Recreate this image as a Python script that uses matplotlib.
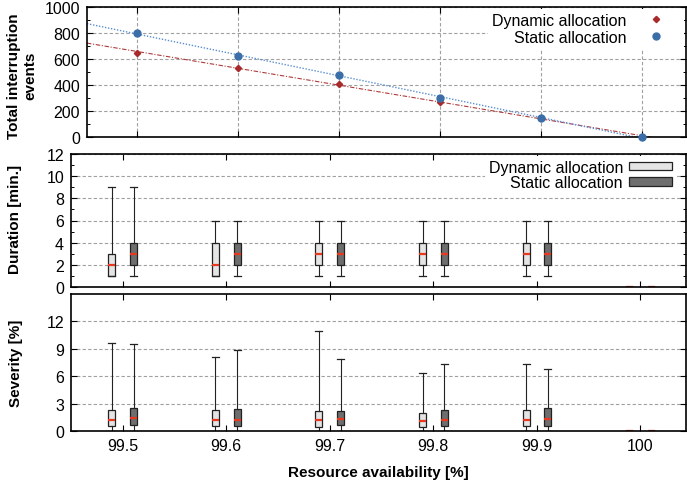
import numpy as np
import matplotlib
matplotlib.use('Agg')
import matplotlib.pyplot as plt
from matplotlib.lines import Line2D
from matplotlib.patches import Patch

plt.rcParams['font.family'] = ['Liberation Sans', 'DejaVu Sans']
plt.rcParams['font.size'] = 11.5

# availability levels [%]
avail = [99.5, 99.6, 99.7, 99.8, 99.9, 100]
xlabels = ['99.5', '99.6', '99.7', '99.8', '99.9', '100']

# total interruption events
events_dyn = [646, 533, 408, 271, 145, 0]
events_sta = [802, 621, 477, 298, 146, 0]

# duration [min.] boxplots
dur_dyn_lo = [1, 1, 1, 1, 1, 0]
dur_dyn_q1 = [1, 1, 2, 2, 2, 0]
dur_dyn_med = [2, 2, 3, 3, 3, 0]
dur_dyn_q3 = [3, 4, 4, 4, 4, 0]
dur_dyn_hi = [9, 6, 6, 6, 6, 0]
dur_sta_lo = [1, 1, 1, 1, 1, 0]
dur_sta_q1 = [2, 2, 2, 2, 2, 0]
dur_sta_med = [3, 3, 3, 3, 3, 0]
dur_sta_q3 = [4, 4, 4, 4, 4, 0]
dur_sta_hi = [9, 6, 6, 6, 6, 0]

# severity [%] boxplots
sev_dyn_lo = [0, 0, 0, 0, 0, 0]
sev_dyn_q1 = [0.55, 0.55, 0.48, 0.48, 0.51, 0]
sev_dyn_med = [1.24, 1.24, 1.17, 1.1, 1.24, 0]
sev_dyn_q3 = [2.34, 2.34, 2.23, 2.01, 2.3, 0]
sev_dyn_hi = [9.62, 8.1, 11.0, 6.37, 7.35, 0]
sev_sta_lo = [0, 0, 0, 0, 0, 0]
sev_sta_q1 = [0.62, 0.55, 0.62, 0.55, 0.51, 0]
sev_sta_med = [1.39, 1.24, 1.35, 1.2, 1.28, 0]
sev_sta_q3 = [2.56, 2.45, 2.2, 2.3, 2.56, 0]
sev_sta_hi = [9.5, 8.9, 7.83, 7.32, 6.8, 0]

RED = '#a82a2a'
BLUE = '#3b6ea8'
LIGHT = '#e4e4e4'
DARK = '#6e6e6e'
MED = '#e8391f'

W, H = 687, 485
fig = plt.figure(figsize=(W / 100, H / 100), dpi=100)
ax1 = fig.add_axes([87 / W, 1 - 138 / H, 599 / W, 130 / H])
ax2 = fig.add_axes([71 / W, 1 - 288 / H, 615 / W, 133 / H])
ax3 = fig.add_axes([71 / W, 1 - 432 / H, 615 / W, 137 / H])

xlim = (99.45, 100.044)
grid_kw = dict(color='#a0a0a0', linestyle=(0, (3, 2)), linewidth=0.8)

for ax in (ax1, ax2, ax3):
    ax.set_xlim(*xlim)
    ax.set_xticks(avail)
    ax.set_axisbelow(True)
    ax.tick_params(direction='in', top=True, right=True, length=4, width=0.8,
                   labelsize=11.5, pad=5)
    ax.tick_params(which='minor', direction='in', right=True, length=2, width=0.7)
    for s in ax.spines.values():
        s.set_linewidth(1.2)

# ---- top: total events ----
x = np.array(avail)
xx = np.array(xlim)
for vals, col, ls, lw in [(events_dyn, '#b03a3a', (0, (4, 1.5, 1, 1.5)), 0.8),
                          (events_sta, '#5b8fd0', (0, (1, 1.2)), 1.0)]:
    k, b = np.polyfit(x, vals, 1)
    ax1.plot(xx, k * xx + b, color=col, linestyle=ls, linewidth=lw)
ax1.plot(x, events_dyn, 'D', color=RED, markersize=3.2, clip_on=False, zorder=4)
ax1.plot(x, events_sta, 'o', color=BLUE, markersize=5, clip_on=False, zorder=4)
ax1.set_ylim(0, 1000)
ax1.set_yticks([0, 200, 400, 600, 800, 1000])
ax1.set_yticks(np.arange(100, 1000, 200), minor=True)
ax1.tick_params(labelbottom=False)
ax1.grid(True, which='major', axis='both', **grid_kw)
h1 = [Line2D([], [], marker='D', color=RED, linestyle='none', markersize=3.2),
      Line2D([], [], marker='o', color=BLUE, linestyle='none', markersize=5)]
ax1.legend(h1, ['Dynamic allocation', 'Static allocation'], loc='upper right',
           markerfirst=False, frameon=True, fancybox=False, edgecolor='none',
           facecolor='white', framealpha=1, fontsize=11.5, handlelength=3.0,
           handletextpad=0.4, labelspacing=0.12, borderpad=0.25,
           borderaxespad=0.1)


def boxes(ax, lo, q1, med, q3, hi, pos, fc):
    stats = [dict(whislo=a, q1=b, med=c, q3=d, whishi=e, fliers=[])
             for a, b, c, d, e in zip(lo, q1, med, q3, hi)]
    ax.bxp(stats, positions=pos, widths=0.0068, capwidths=0.0068, patch_artist=True,
           showfliers=False, manage_ticks=False,
           boxprops=dict(facecolor=fc, edgecolor='#222222', linewidth=0.9),
           medianprops=dict(color=MED, linewidth=1.6),
           whiskerprops=dict(color='#222222', linewidth=0.8),
           capprops=dict(color='#222222', linewidth=0.9))


off = 0.0105
pos_d = [v - off for v in avail]
pos_s = [v + off for v in avail]

# ---- middle: duration ----
boxes(ax2, dur_dyn_lo, dur_dyn_q1, dur_dyn_med, dur_dyn_q3, dur_dyn_hi, pos_d, LIGHT)
boxes(ax2, dur_sta_lo, dur_sta_q1, dur_sta_med, dur_sta_q3, dur_sta_hi, pos_s, DARK)
ax2.set_ylim(0, 12)
ax2.set_yticks(range(0, 13, 2))
ax2.set_yticks(range(1, 12, 2), minor=True)
ax2.tick_params(labelbottom=False)
ax2.grid(True, which='major', axis='y', **grid_kw)
h2 = [Patch(facecolor=LIGHT, edgecolor='#222222', linewidth=0.9),
      Patch(facecolor=DARK, edgecolor='#222222', linewidth=0.9)]
ax2.legend(h2, ['Dynamic allocation', 'Static allocation'], loc='upper right',
           bbox_to_anchor=(1 - 8 / 615, 1),
           markerfirst=False, frameon=True, fancybox=False, edgecolor='none',
           facecolor='white', framealpha=1, fontsize=11.5, handlelength=2.7,
           handleheight=0.45, handletextpad=0.4, labelspacing=0.05, borderpad=0.25,
           borderaxespad=0.1)

# ---- bottom: severity ----
boxes(ax3, sev_dyn_lo, sev_dyn_q1, sev_dyn_med, sev_dyn_q3, sev_dyn_hi, pos_d, LIGHT)
boxes(ax3, sev_sta_lo, sev_sta_q1, sev_sta_med, sev_sta_q3, sev_sta_hi, pos_s, DARK)
ax3.set_ylim(0, 15)
ax3.set_yticks(range(0, 13, 3))
ax3.grid(True, which='major', axis='y', **grid_kw)
ax3.set_xticklabels(xlabels)

fig.text(22 / W, 1 - 76 / H, 'Total interruption\nevents', rotation=90, ha='center',
         va='center', multialignment='center', fontsize=11, fontweight='bold',
         linespacing=1.25)
fig.text(15 / W, 1 - 219 / H, 'Duration [min.]', rotation=90, ha='center', va='center',
         fontsize=11, fontweight='bold')
fig.text(16 / W, 1 - 363 / H, 'Severity [%]', rotation=90, ha='center', va='center',
         fontsize=11, fontweight='bold')
fig.text(378 / W, 1 - 473 / H, 'Resource availability [%]', ha='center', va='center',
         fontsize=11, fontweight='bold')

fig.savefig('out.png', dpi=100)
